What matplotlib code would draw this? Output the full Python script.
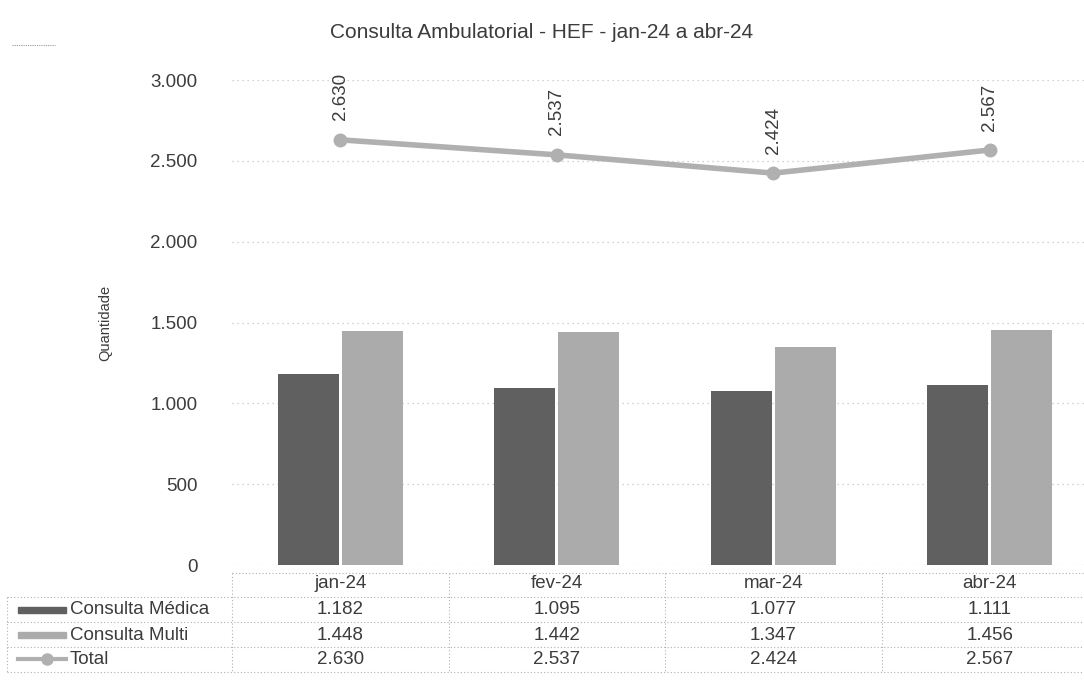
import matplotlib.pyplot as plt
from matplotlib.patches import Rectangle
from matplotlib.lines import Line2D
import matplotlib.transforms as mtransforms

plt.rcParams['font.family'] = ['Liberation Sans', 'DejaVu Sans']

months = ["jan-24", "fev-24", "mar-24", "abr-24"]
medica = [1182, 1095, 1077, 1111]
multi = [1448, 1442, 1347, 1456]
total = [2630, 2537, 2424, 2567]
series_names = ["Consulta Médica", "Consulta Multi", "Total"]
yticks = [0, 500, 1000, 1500, 2000, 2500, 3000]
ytick_labels = ["0", "500", "1.000", "1.500", "2.000", "2.500", "3.000"]


def fmt(v):
    return f"{v:,}".replace(",", ".")


dark = "#606060"
light = "#ababab"
line_c = "#b0b0b0"
txt = "#3c3c3c"
grid_c = "#c4c4c4"
fs = 13.5

W, H = 1084, 688
fig = plt.figure(figsize=(W / 100, H / 100), dpi=100)
# plot area: x 232..1098 px (right side cut off), y 80..565 px
ax = fig.add_axes([232 / W, 1 - 565 / H, 866 / W, 485 / H])

x = list(range(len(months)))
bw = 0.282
off = 0.148
ax.bar([i - off for i in x], medica, width=bw, color=dark, zorder=2)
ax.bar([i + off for i in x], multi, width=bw, color=light, zorder=2)
ax.plot(x, total, color=line_c, lw=4, marker="o", ms=9, zorder=3)
for i, v in zip(x, total):
    ax.annotate(fmt(v), (i, v), xytext=(0, 14), textcoords="offset points",
                rotation=90, ha="center", va="bottom", fontsize=fs, color=txt)

ax.set_xlim(-0.5, 3.5)
ax.set_ylim(0, 3000)
ax.set_yticks(yticks)
ax.set_yticklabels(ytick_labels, fontsize=fs, color=txt)
ax.set_xticks([])
ax.tick_params(axis="y", length=0, pad=25)
for s in ax.spines.values():
    s.set_visible(False)
ax.grid(axis="y", color=grid_c, ls=(0, (1, 3)), lw=0.9, zorder=0)
ax.set_axisbelow(True)
ax.set_ylabel("Quantidade", fontsize=10.5, color=txt, labelpad=27)

fig.text(0.5, 1 - 33 / H, "Consulta Ambulatorial - HEF - jan-24 a abr-24",
         ha="center", va="center", fontsize=15, color=txt)
fig.add_artist(Line2D([12 / W, 55 / W], [1 - 45 / H] * 2, color="#999999",
                      ls=(0, (1, 1)), lw=0.8))

# data table under the chart
tr = mtransforms.blended_transform_factory(ax.transData, fig.transFigure)
row_y = [583, 610, 635, 659]
row_lines = [573, 597, 622, 647, 672]
dot = dict(color="#b0b0b0", ls=(0, (1, 2)), lw=0.8)

for i, m in enumerate(months):
    fig.text(i, 1 - row_y[0] / H, m, transform=tr, ha="center", va="center",
             fontsize=fs, color=txt)
    for r, vals in enumerate([medica, multi, total]):
        fig.text(i, 1 - row_y[r + 1] / H, fmt(vals[i]), transform=tr,
                 ha="center", va="center", fontsize=fs, color=txt)

for k, yl in enumerate(row_lines):
    x0 = 232 / W if k == 0 else 7 / W
    fig.add_artist(Line2D([x0, 1], [1 - yl / H] * 2, **dot))
for b in [-0.5, 0.5, 1.5, 2.5]:
    fig.add_artist(Line2D([b, b], [1 - row_lines[0] / H, 1 - row_lines[-1] / H],
                          transform=tr, **dot))
fig.add_artist(Line2D([7 / W] * 2, [1 - row_lines[1] / H, 1 - row_lines[-1] / H], **dot))

sw0, sw1 = 18 / W, 66 / W
for r, name in enumerate(series_names):
    yc = 1 - row_y[r + 1] / H
    if r < 2:
        fig.add_artist(Rectangle((sw0, yc - 3 / H), sw1 - sw0, 6 / H,
                                 color=dark if r == 0 else light,
                                 transform=fig.transFigure))
    else:
        fig.add_artist(Line2D([sw0, sw1], [yc, yc], color=line_c, lw=3))
        fig.add_artist(Line2D([47 / W], [yc], color=line_c,
                              marker="o", ms=8, lw=0))
    fig.text(70 / W, yc, name, ha="left", va="center", fontsize=fs, color=txt)

fig.savefig("out.png", dpi=100)
